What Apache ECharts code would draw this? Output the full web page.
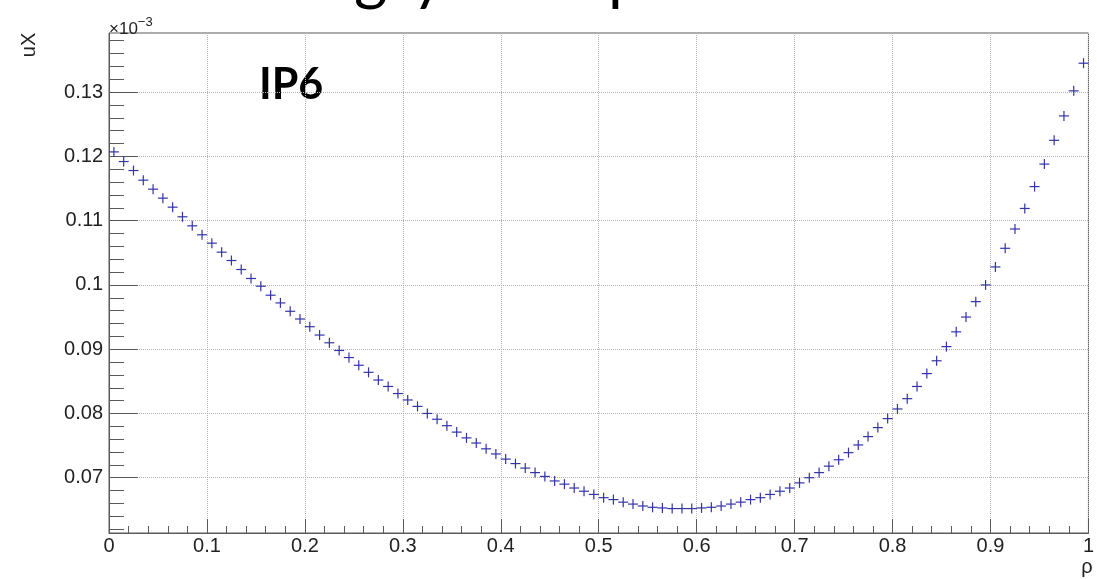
<!DOCTYPE html>
<html>
<head>
<meta charset="utf-8">
<script src="https://cdn.jsdelivr.net/npm/echarts@6/dist/echarts.min.js"></script>
<style>
  html, body { margin: 0; padding: 0; background: #fff; }
  #chart { width: 1097px; height: 579px; }
</style>
</head>
<body>
<div id="chart"></div>
<script>
// Bin centres along rho
const rho = [
  0.005, 0.015, 0.025, 0.035, 0.045, 0.055, 0.065, 0.075, 0.085, 0.095,
  0.105, 0.115, 0.125, 0.135, 0.145, 0.155, 0.165, 0.175, 0.185, 0.195,
  0.205, 0.215, 0.225, 0.235, 0.245, 0.255, 0.265, 0.275, 0.285, 0.295,
  0.305, 0.315, 0.325, 0.335, 0.345, 0.355, 0.365, 0.375, 0.385, 0.395,
  0.405, 0.415, 0.425, 0.435, 0.445, 0.455, 0.465, 0.475, 0.485, 0.495,
  0.505, 0.515, 0.525, 0.535, 0.545, 0.555, 0.565, 0.575, 0.585, 0.595,
  0.605, 0.615, 0.625, 0.635, 0.645, 0.655, 0.665, 0.675, 0.685, 0.695,
  0.705, 0.715, 0.725, 0.735, 0.745, 0.755, 0.765, 0.775, 0.785, 0.795,
  0.805, 0.815, 0.825, 0.835, 0.845, 0.855, 0.865, 0.875, 0.885, 0.895,
  0.905, 0.915, 0.925, 0.935, 0.945, 0.955, 0.965, 0.975, 0.985, 0.995
];

// uX per bin, in units of 1e-3
const uX = [
  0.1207, 0.1192, 0.1178, 0.1163, 0.1149, 0.1135, 0.1121, 0.1106, 0.1092, 0.1078,
  0.1065, 0.1051, 0.1038, 0.1024, 0.1010, 0.0998, 0.0984, 0.0972, 0.0959, 0.0947,
  0.0935, 0.0922, 0.0910, 0.0898, 0.0887, 0.0875, 0.0864, 0.0852, 0.0842, 0.0831,
  0.0821, 0.0811, 0.0800, 0.0791, 0.0781, 0.0771, 0.0762, 0.0754, 0.0745, 0.0737,
  0.0729, 0.0722, 0.0715, 0.0708, 0.0702, 0.0695, 0.0690, 0.0684, 0.0679, 0.0674,
  0.0669, 0.0666, 0.0662, 0.0659, 0.0656, 0.0654, 0.0653, 0.0652, 0.0652, 0.0652,
  0.0653, 0.0654, 0.0656, 0.0659, 0.0662, 0.0666, 0.0669, 0.0674, 0.0679, 0.0684,
  0.0692, 0.0700, 0.0708, 0.0718, 0.0728, 0.0739, 0.0751, 0.0764, 0.0778, 0.0792,
  0.0807, 0.0823, 0.0842, 0.0862, 0.0882, 0.0904, 0.0927, 0.0950, 0.0974, 0.1000,
  0.1028, 0.1057, 0.1087, 0.1119, 0.1153, 0.1188, 0.1225, 0.1263, 0.1302, 0.1345
];

// Axis ranges and tick values
const xRange = [0, 1];
const yRange = [0.0614, 0.1392];
const yMajorTicks = [0.07, 0.08, 0.09, 0.10, 0.11, 0.12, 0.13];
const yMinorTicks = [
  0.062, 0.064, 0.066, 0.068, 0.072, 0.074, 0.076, 0.078,
  0.082, 0.084, 0.086, 0.088, 0.092, 0.094, 0.096, 0.098,
  0.102, 0.104, 0.106, 0.108, 0.112, 0.114, 0.116, 0.118,
  0.122, 0.124, 0.126, 0.128, 0.132, 0.134, 0.136, 0.138
];

const AXIS_COLOR = '#5a5a5a';
const GRID_COLOR = '#b4b4b4';
const MARK_COLOR = '#3434a8';
const FONT = '"Liberation Sans", Arial, Helvetica, sans-serif';
const TITLE_FONT = '64px Lato, "Open Sans", sans-serif';

const points = rho.map((r, i) => [r, uX[i]]);
const gridBox = { left: 109, right: 5, top: 33, bottom: 46 };

const chart = echarts.init(document.getElementById('chart'), null, { renderer: 'canvas' });

chart.setOption({
  animation: false,
  backgroundColor: '#ffffff',
  grid: [
    Object.assign({ show: true, borderColor: AXIS_COLOR, borderWidth: 1, backgroundColor: 'transparent' }, gridBox),
    Object.assign({ show: false }, gridBox)
  ],
  xAxis: [
    {
      type: 'value', gridIndex: 0,
      min: xRange[0], max: xRange[1], interval: 0.1,
      axisLine: { show: true, onZero: false, lineStyle: { color: AXIS_COLOR, width: 1 } },
      axisTick: { show: true, inside: true, length: 14, lineStyle: { color: AXIS_COLOR, width: 1 } },
      minorTick: { show: true, splitNumber: 5, length: 7, lineStyle: { color: AXIS_COLOR, width: 1 } },
      splitLine: { show: true, lineStyle: { color: GRID_COLOR, type: 'dotted', width: 1 } },
      axisLabel: { margin: 3, color: '#222', fontFamily: FONT, fontSize: 20 }
    },
    {
      type: 'value', gridIndex: 1, min: xRange[0], max: xRange[1], show: false
    }
  ],
  yAxis: [
    {
      type: 'value', gridIndex: 0,
      min: yRange[0], max: yRange[1],
      axisLine: { show: true, onZero: false, lineStyle: { color: AXIS_COLOR, width: 1 } },
      axisTick: { show: true, inside: true, length: 29, customValues: yMajorTicks, lineStyle: { color: AXIS_COLOR, width: 1 } },
      minorTick: { show: false },
      splitLine: { show: true, lineStyle: { color: GRID_COLOR, type: 'dotted', width: 1 } },
      axisLabel: { margin: 6, customValues: yMajorTicks, color: '#222', fontFamily: FONT, fontSize: 20 }
    },
    {
      // secondary ticks between the labelled values
      type: 'value', gridIndex: 1,
      min: yRange[0], max: yRange[1], position: 'left',
      axisLine: { show: false },
      axisTick: { show: true, inside: true, length: 15, customValues: yMinorTicks, lineStyle: { color: AXIS_COLOR, width: 1 } },
      axisLabel: { show: false },
      splitLine: { show: false }
    }
  ],
  series: [
    {
      type: 'custom',
      xAxisIndex: 0, yAxisIndex: 0,
      data: points,
      renderItem: function (params, api) {
        const p = api.coord([api.value(0), api.value(1)]);
        const h = 5;
        const st = { stroke: MARK_COLOR, lineWidth: 1.2 };
        return {
          type: 'group',
          children: [
            { type: 'line', shape: { x1: p[0] - h, y1: p[1], x2: p[0] + h, y2: p[1] }, style: st },
            { type: 'line', shape: { x1: p[0], y1: p[1] - h, x2: p[0], y2: p[1] + h }, style: st }
          ]
        };
      }
    }
  ],
  graphic: [
    {
      type: 'text', x: 29, y: 45, rotation: Math.PI / 2,
      style: { text: 'uX', fill: '#222', font: '20px ' + FONT, align: 'center', verticalAlign: 'middle' }
    },
    {
      type: 'text', x: 109, y: 38,
      style: {
        text: '{a|×10}{b|−3}',
        align: 'left', verticalAlign: 'bottom',
        rich: {
          a: { fontFamily: FONT, fontSize: 17, fill: '#222', verticalAlign: 'bottom' },
          b: { fontFamily: FONT, fontSize: 13, fill: '#222', verticalAlign: 'top', padding: [0, 0, 9, 0] }
        }
      }
    },
    {
      type: 'text', x: 1087, y: 567,
      style: { text: 'ρ', fill: '#222', font: '20px ' + FONT, align: 'center', verticalAlign: 'middle' }
    },
    {
      type: 'text', x: 259, y: 64,
      style: { text: 'IP6', fill: '#000', font: 'bold 43px Lato, "Open Sans", sans-serif', align: 'left', verticalAlign: 'top' }
    },
    // slide heading above the frame, only its lowest strokes fall inside the view
    {
      type: 'text', x: 354, y: 9,
      style: { text: 'g', fill: '#000', font: TITLE_FONT, align: 'left', verticalAlign: 'bottom' }
    },
    {
      type: 'text', x: 412, y: 9,
      style: { text: 'y', fill: '#000', font: TITLE_FONT, align: 'left', verticalAlign: 'bottom' }
    },
    {
      type: 'text', x: 608, y: 9,
      style: { text: 'p', fill: '#000', font: TITLE_FONT, align: 'left', verticalAlign: 'bottom' }
    }
  ]
});
</script>
</body>
</html>
